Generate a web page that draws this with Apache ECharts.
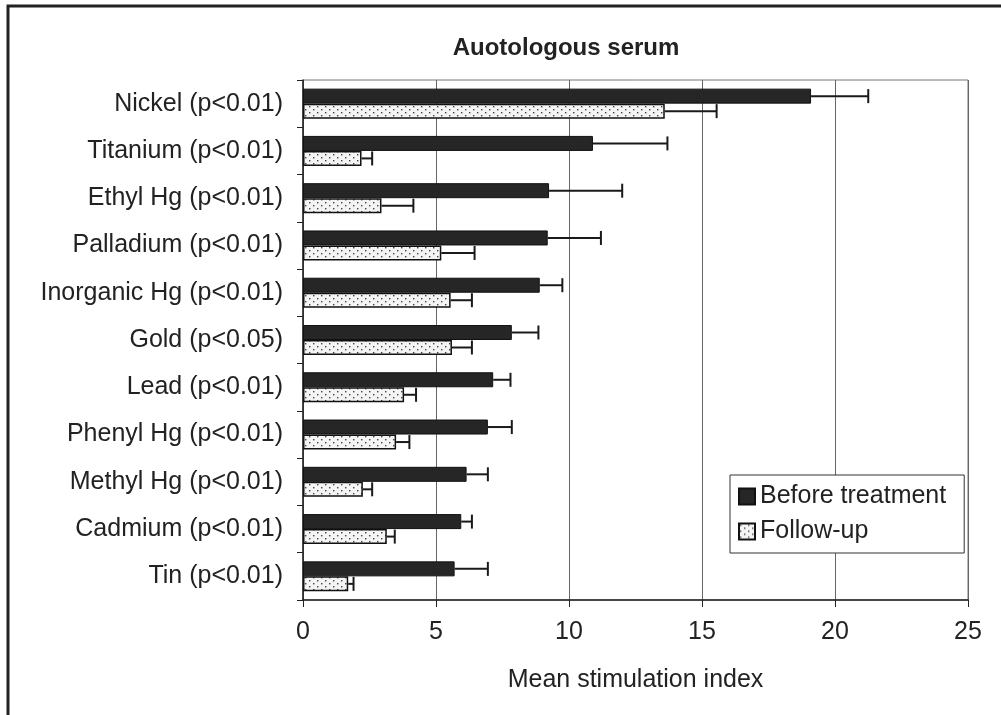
<!DOCTYPE html>
<html>
<head>
<meta charset="utf-8">
<script src="https://cdn.jsdelivr.net/npm/echarts@6/dist/echarts.min.js"></script>
<style>
html,body{margin:0;padding:0;background:#fff;}
#chart{width:1001px;height:715px;}
</style>
</head>
<body>
<div id="chart"></div>
<script>
var categories = ['Nickel (p<0.01)','Titanium (p<0.01)','Ethyl Hg (p<0.01)','Palladium (p<0.01)','Inorganic Hg (p<0.01)','Gold (p<0.05)','Lead (p<0.01)','Phenyl Hg (p<0.01)','Methyl Hg (p<0.01)','Cadmium (p<0.01)','Tin (p<0.01)'];
var beforeValues = [19.1, 10.9, 9.25, 9.2, 8.9, 7.85, 7.15, 6.95, 6.15, 5.95, 5.7];
var beforeSD = [2.15, 2.8, 2.75, 2.0, 0.85, 1.0, 0.65, 0.9, 0.8, 0.4, 1.25];
var followValues = [13.6, 2.2, 2.95, 5.2, 5.55, 5.6, 3.8, 3.5, 2.25, 3.15, 1.7];
var followSD = [1.95, 0.4, 1.2, 1.25, 0.8, 0.75, 0.45, 0.5, 0.35, 0.3, 0.2];
var xTicks = [0, 5, 10, 15, 20, 25];

var FONT = "'Liberation Sans', Arial, sans-serif";

// dotted pattern for follow-up bars
var pat = document.createElement('canvas');
pat.width = 8; pat.height = 6;
var pc = pat.getContext('2d');
pc.fillStyle = '#f4f4f4'; pc.fillRect(0,0,8,6);
pc.fillStyle = '#444';
pc.fillRect(1,1,1.4,1.4);
pc.fillRect(5,4,1.4,1.4);
var dotColor = {image: pat, repeat: 'repeat'};

var BAR_W = 15;

function errData(vals, sds){
  return vals.map(function(v,i){ return [v, i, sds[i]]; });
}
function makeErr(offset){
  return function(params, api){
    var v = api.value(0), c = api.value(1), sd = api.value(2);
    var p0 = api.coord([v, c]);
    var p1 = api.coord([v + sd, c]);
    var y = p0[1] + offset;
    var cap = 7;
    return {
      type: 'group',
      children: [
        {type:'line', shape:{x1:p0[0], y1:y, x2:p1[0], y2:y}, style:{stroke:'#1a1a1a', lineWidth:2}},
        {type:'line', shape:{x1:p1[0], y1:y-cap, x2:p1[0], y2:y+cap}, style:{stroke:'#1a1a1a', lineWidth:2}}
      ]
    };
  };
}

var chart = echarts.init(document.getElementById('chart'), null, {renderer:'canvas'});
chart.setOption({
  animation: false,
  backgroundColor: '#fff',
  title: {
    text: 'Auotologous serum',
    left: 561, top: 31, textAlign: 'center',
    textStyle: {fontFamily: FONT, fontSize: 24, fontWeight: 'bold', color: '#222'}
  },
  graphic: [{
    type: 'rect', silent: true,
    shape: {x: 8, y: 6, width: 1100, height: 800},
    style: {fill: 'none', stroke: '#222', lineWidth: 3}
  }],
  legend: {
    orient: 'vertical',
    left: 730, top: 475,
    padding: [9, 18, 9, 8],
    itemGap: 10,
    itemWidth: 16, itemHeight: 16,
    backgroundColor: '#fff',
    borderColor: '#333', borderWidth: 1,
    textStyle: {fontFamily: FONT, fontSize: 25, color: '#222'},
    data: [
      {name: 'Before treatment', icon: 'rect'},
      {name: 'Follow-up', icon: 'rect'}
    ]
  },
  grid: {
    left: 303, right: 33, top: 80, bottom: 115,
    show: true, borderColor: '#777', borderWidth: 1
  },
  xAxis: {
    type: 'value', min: 0, max: 25, interval: 5,
    name: 'Mean stimulation index',
    nameLocation: 'middle', nameGap: 68,
    nameTextStyle: {fontFamily: FONT, fontSize: 25, color: '#222'},
    axisLine: {show: true, lineStyle: {color: '#222', width: 1.5}},
    axisTick: {show: true, length: 7, lineStyle: {color: '#222'}},
    axisLabel: {fontFamily: FONT, fontSize: 25, color: '#222', margin: 20,
      formatter: function(v){ return xTicks.indexOf(v) >= 0 ? String(v) : ''; }},
    splitLine: {show: true, lineStyle: {color: '#666', width: 1}}
  },
  yAxis: {
    type: 'category', data: categories, inverse: true,
    axisLine: {show: true, lineStyle: {color: '#222', width: 1.5}},
    axisTick: {show: true, length: 6, lineStyle: {color: '#222'}},
    axisLabel: {fontFamily: FONT, fontSize: 25, color: '#222', margin: 20}
  },
  series: [
    {
      name: 'Before treatment', type: 'bar', data: beforeValues,
      barWidth: BAR_W, barGap: '0%',
      itemStyle: {color: '#262626', borderColor: '#111', borderWidth: 1}
    },
    {
      name: 'Follow-up', type: 'bar', data: followValues,
      barWidth: BAR_W, barGap: '0%',
      itemStyle: {color: dotColor, borderColor: '#111', borderWidth: 1.5}
    },
    {
      type: 'custom', name: 'errBefore', data: errData(beforeValues, beforeSD),
      renderItem: makeErr(-BAR_W/2), encode: {x: 0, y: 1}, z: 5, silent: true
    },
    {
      type: 'custom', name: 'errFollow', data: errData(followValues, followSD),
      renderItem: makeErr(BAR_W/2), encode: {x: 0, y: 1}, z: 5, silent: true
    }
  ]
});
</script>
</body>
</html>
